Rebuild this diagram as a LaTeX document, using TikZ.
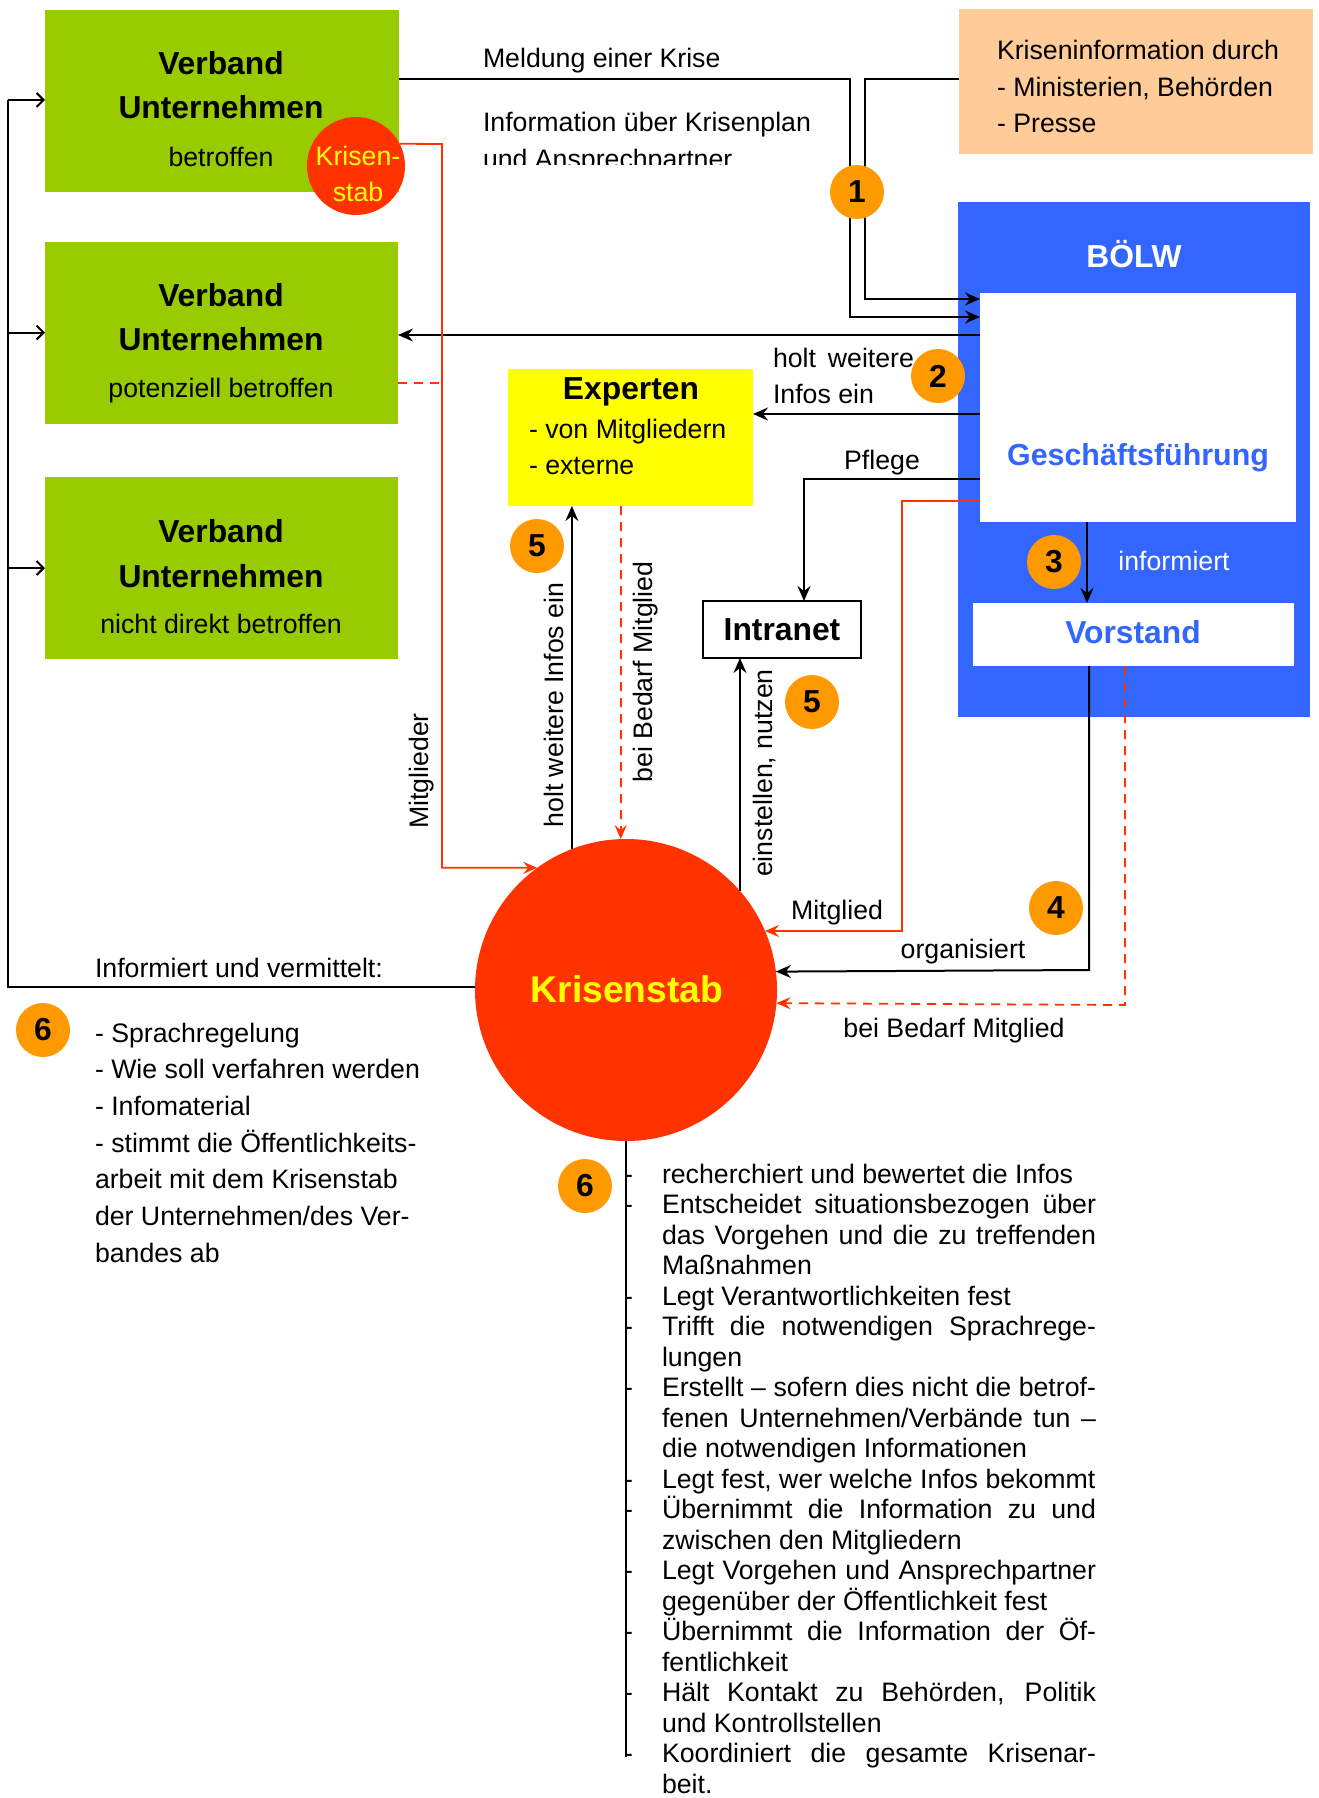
\documentclass[tikz,border=0pt]{standalone}
\usepackage{fontspec}
\setmainfont{Liberation Sans}
\usetikzlibrary{arrows.meta,calc}
\definecolor{vgreen}{HTML}{99CC00}
\definecolor{kpeach}{HTML}{FFCC99}
\definecolor{kblue}{HTML}{3366FF}
\definecolor{kred}{HTML}{FF3300}
\definecolor{kyellow}{HTML}{FFFF00}
\definecolor{korange}{HTML}{FF9900}
\newcommand\txtn{\fontsize{26.7pt}{36.5pt}\selectfont}
\newcommand\txtnr{\fontsize{26.7pt}{30.5pt}\selectfont}
\newcommand\txtl{\fontsize{26.7pt}{36.7pt}\selectfont}
\newcommand\txtb{\fontsize{31.8pt}{38pt}\selectfont\bfseries}
\newcommand\txtg{\fontsize{30.4pt}{38pt}\selectfont\bfseries}
\newcommand\txtk{\fontsize{37.2pt}{44pt}\selectfont\bfseries}
\newcommand\rdS[1]{\makebox[38pt][l]{-}\makebox[434pt][s]{#1}}
\newcommand\rdL[1]{\makebox[38pt][l]{-}\makebox[434pt][l]{#1}}
\newcommand\rcS[1]{\makebox[38pt][l]{}\makebox[434pt][s]{#1}}
\newcommand\rcL[1]{\makebox[38pt][l]{}\makebox[434pt][l]{#1}}
\tikzset{
  rect/.style={inner sep=0pt, outer sep=0pt, draw=none},
  gbox/.style={rect, fill=vgreen, minimum width=353pt, minimum height=182pt},
  num/.style={circle, fill=korange, minimum size=54pt, inner sep=0pt, outer sep=0pt, font=\txtb},
  lbl/.style={inner sep=0pt, outer sep=0pt, font=\txtn},
  blbl/.style={inner sep=0pt, outer sep=0pt, font=\txtb},
  blk/.style={draw=black, line width=2pt},
  arr/.style={blk, -{Stealth[length=15pt,width=13pt,inset=5pt]}},
  barb/.style={blk, -{Straight Barb[length=7pt,width=14pt]}},
  redl/.style={draw=kred, line width=1.8pt},
  redarr/.style={redl, -{Stealth[length=14pt,width=12pt,inset=5pt]}},
  reddash/.style={redl, dash pattern=on 9pt off 7pt},
}
\begin{document}
\begin{tikzpicture}[x=1pt,y=-1pt]
\useasboundingbox (0,0) rectangle (1318,1798);
\fill[white] (0,0) rectangle (1318,1798);

% boxes
\node[gbox, minimum width=354pt] (g1) at (222,101) {};
\node[gbox] (g2) at (221.5,332.5) {};
\node[gbox] (g3) at (221.5,568) {};
\node[rect, fill=kpeach, minimum width=354pt, minimum height=145pt] (ki) at (1136,81.5) {};
\node[rect, fill=kblue, minimum width=352pt, minimum height=515pt] (bw) at (1134,459.5) {};
\node[rect, fill=white, minimum width=316pt, minimum height=229pt] (gf) at (1138,407.5) {};
\node[rect, fill=white, minimum width=321pt, minimum height=63pt] (vor) at (1133.5,634.5) {};
\node[rect, fill=kyellow, minimum width=245pt, minimum height=137pt] (exp) at (630.5,437.5) {};
\node[rect, draw=black, line width=2pt, fill=white, minimum width=158pt, minimum height=57pt, font=\txtb] (intr) at (782,629.5) {Intranet};

% circles
\node[circle, fill=kred, minimum size=98pt, inner sep=0pt, outer sep=0pt] (ksm) at (356,166) {};
\node[circle, fill=kred, minimum size=302pt, inner sep=0pt, outer sep=0pt] (ks) at (626,990) {};

% helper coordinates
\coordinate (mA) at (850,79);
\coordinate (mB) at (850,317);
\coordinate (kA) at (865,79);
\coordinate (kB) at (865,299);
\coordinate (y335) at (0,335);
\coordinate (y414) at (0,414);
\coordinate (pA) at (804,479);
\coordinate (rA) at (902,501);
\coordinate (vx) at (1087,0);
\coordinate (oA) at (1089,970);
\coordinate (dA) at (1125,1005);
\coordinate (sA) at (442,144);
\coordinate (y383) at (0,383);
\coordinate (lA) at (8,100);
\coordinate (y1757) at (0,1757);

% connectors
\draw[arr] (g1.east |- mA) -- (mA) -- (mB) -- (gf.west |- mB);
\draw[arr] (ki.west |- kA) -- (kA) -- (kB) -- (gf.west |- kB);
\draw[arr] (gf.west |- y335) -- (g2.east |- y335);
\draw[arr] (gf.west |- y414) -- (exp.east |- y414);
\draw[arr] (gf.west |- pA) -- (pA) -- (pA |- intr.north);
\draw[redarr] (gf.west |- rA) -- (rA) -- (rA |- ks.23) -- (ks.23);
\draw[arr] (ks.41.5) -- (ks.41.5 |- intr.south);
\draw[arr] (gf.south -| vx) -- (vor.north -| vx);
\draw[arr] (vor.south -| oA) -- (oA) -- (ks.7.6);
\draw[reddash, -{Stealth[length=14pt,width=12pt,inset=5pt]}] (vor.south -| dA) -- (dA) -- (ks.-5.7);
\draw[arr] (ks.111.4) -- (ks.111.4 |- exp.south);
\draw[reddash, -{Stealth[length=14pt,width=12pt,inset=5pt]}] (ks.92.7 |- exp.south) -- (ks.92.7);
\draw[redarr] (ksm.27) -- (sA) -- (sA |- ks.126) -- (ks.126);
\draw[reddash] (g2.east |- y383) -- (sA |- y383);
\draw[blk] (ks.179) -- (ks.179 -| lA) -- (lA);
\draw[barb] (lA) -- (g1.west |- lA);
\draw[barb] (lA |- g2.west) -- (g2.west);
\draw[barb] (lA |- g3.west) -- (g3.west);
\draw[blk] (ks.south) -- (ks.south |- y1757);

% green box texts
\node[blbl, anchor=base] (g1a) at (221,75) {Verband};
\node[blbl, anchor=base] (g1b) at (221,119) {Unternehmen};
\node[lbl, anchor=base] (g1c) at (221,167) {betroffen};
\node[blbl, anchor=base] (g2a) at (221,306) {Verband};
\node[blbl, anchor=base] (g2b) at (221,350) {Unternehmen};
\node[lbl, anchor=base] (g2c) at (221,397) {potenziell betroffen};
\node[blbl, anchor=base] (g3a) at (221,542) {Verband};
\node[blbl, anchor=base] (g3b) at (221,587) {Unternehmen};
\node[lbl, anchor=base] (g3c) at (221,633) {nicht direkt betroffen};

% small Krisenstab
\node[lbl, anchor=base, text=kyellow] (ks1) at (358,166) {Krisen-};
\node[lbl, anchor=base, text=kyellow] (ks2) at (358,202) {stab};

% top labels
\node[lbl, anchor=base west] (lmeld) at (483,68) {Meldung einer Krise};
\begin{scope}
\clip (470,90) rectangle (860,165);
\node[lbl, anchor=base west, align=left] (linfo) at (483,168.5) {Information über Krisenplan\\und Ansprechpartner};
\end{scope}
\node[lbl, anchor=base west, align=left] (kitext) at (997,133) {Kriseninformation durch\\- Ministerien, Behörden\\- Presse};

% BÖLW
\node[blbl, anchor=base, text=white] (bwt) at (1134,267) {BÖLW};
\node[inner sep=0pt, outer sep=0pt, font=\txtg, text=kblue, anchor=base] (gft) at (1138,465) {Geschäftsführung};
\node[lbl, anchor=base, text=white] (inft) at (1174,570) {informiert};
\node[blbl, anchor=base, text=kblue] (vort) at (1133,643) {Vorstand};

% Experten
\node[blbl, anchor=base] (expt) at (631,399) {Experten};
\node[lbl, anchor=base west, align=left] (expl) at (529,474.5) {- von Mitgliedern\\- externe};

% connector labels
\node[lbl, anchor=base west, align=left] (lholt2) at (773,403.5) {\makebox[141pt][s]{holt weitere}\\Infos ein};
\node[lbl, anchor=base] (lpfl) at (882,469) {Pflege};
\node[lbl, anchor=base] (lmitg) at (837,919) {Mitglied};
\node[lbl, anchor=base] (lorg) at (963,958) {organisiert};
\node[lbl, anchor=base] (lbbm) at (954,1037) {bei Bedarf Mitglied};
\node[lbl, rotate=90, anchor=base] (lholt) at (563,705) {holt weitere Infos ein};
\node[lbl, rotate=90, anchor=base] (lbed) at (652,672) {bei Bedarf Mitglied};
\node[lbl, rotate=90, anchor=base] (lmit) at (428,771) {Mitglieder};
\node[lbl, rotate=90, anchor=base] (lein) at (772,773) {einstellen, nutzen};

% Krisenstab text
\node[inner sep=0pt, outer sep=0pt, font=\txtk, text=kyellow, anchor=base] (kst) at (627,1002) {Krisenstab};

% left list
\node[lbl, anchor=base west] (liuv) at (95,977) {Informiert und vermittelt:};
\node[inner sep=0pt, outer sep=0pt, font=\txtl, anchor=base west, align=left] (llist) at (95,1262.2) {- Sprachregelung\\- Wie soll verfahren werden\\- Infomaterial\\- stimmt die Öffentlichkeits-\\arbeit mit dem Krisenstab\\der Unternehmen/des Ver-\\bandes ab};

% right list
\node[inner sep=0pt, outer sep=0pt, font=\txtnr, anchor=base west, align=left] (rlist) at (624,1793) {%
\rdL{recherchiert und bewertet die Infos}\\
\rdS{Entscheidet situationsbezogen über}\\
\rcS{das Vorgehen und die zu treffenden}\\
\rcL{Maßnahmen}\\
\rdL{Legt Verantwortlichkeiten fest}\\
\rdS{Trifft die notwendigen Sprachrege-}\\
\rcL{lungen}\\
\rdS{Erstellt – sofern dies nicht die betrof-}\\
\rcS{fenen Unternehmen/Verbände tun –}\\
\rcL{die notwendigen Informationen}\\
\rdL{Legt fest, wer welche Infos bekommt}\\
\rdS{Übernimmt die Information zu und}\\
\rcL{zwischen den Mitgliedern}\\
\rdS{Legt Vorgehen und Ansprechpartner}\\
\rcL{gegenüber der Öffentlichkeit fest}\\
\rdS{Übernimmt die Information der Öf-}\\
\rcL{fentlichkeit}\\
\rdS{Hält Kontakt zu Behörden, Politik}\\
\rcL{und Kontrollstellen}\\
\rdS{Koordiniert die gesamte Krisenar-}\\
\rcL{beit.}};

% numbered circles
\node[num] (c1) at (857,192) {1};
\node[num] (c2) at (938,376) {2};
\node[num] (c3) at (1054,562) {3};
\node[num] (c4) at (1056,908) {4};
\node[num] (c5a) at (537,546) {5};
\node[num] (c5b) at (812,702) {5};
\node[num] (c6a) at (43,1030) {6};
\node[num] (c6b) at (585,1186) {6};
\end{tikzpicture}
\end{document}
